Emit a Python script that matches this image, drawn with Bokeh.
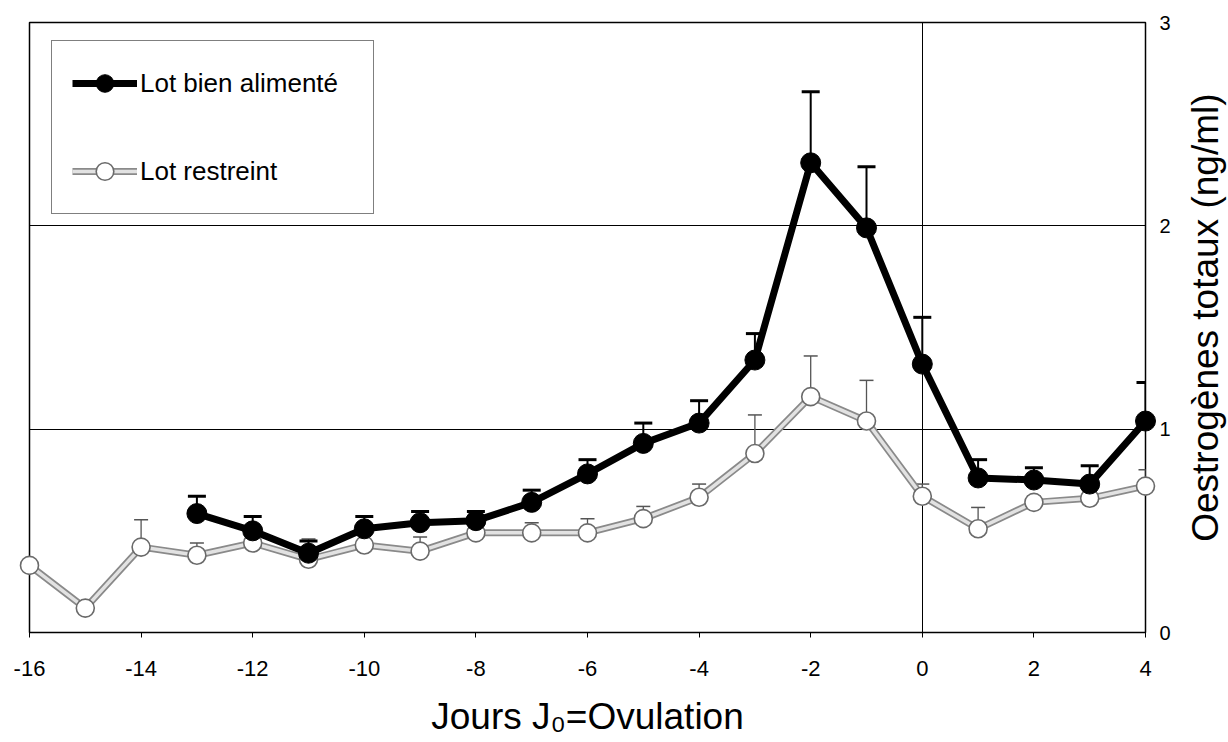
import math
from bokeh.plotting import figure
from bokeh.layouts import row
from bokeh.models import (ColumnDataSource, Whisker, TeeHead, Legend, LegendItem,
                          FixedTicker)
from bokeh.embed import file_html
from bokeh.resources import INLINE

# ---- data ----
days_fed = [-13, -12, -11, -10, -9, -8, -7, -6, -5, -4, -3, -2, -1, 0, 1, 2, 3, 4]
fed = [0.585, 0.50, 0.39, 0.51, 0.54, 0.55, 0.64, 0.78, 0.93, 1.03, 1.34, 2.31,
       1.99, 1.32, 0.76, 0.75, 0.73, 1.04]
fed_upper = [0.67, 0.57, 0.45, 0.57, 0.595, 0.595, 0.70, 0.85, 1.03, 1.14, 1.47, 2.66,
             2.29, 1.55, 0.85, 0.81, 0.82, 1.23]

days_restr = [-16, -15, -14, -13, -12, -11, -10, -9, -8, -7, -6, -5, -4, -3, -2, -1,
              0, 1, 2, 3, 4]
restr = [0.33, 0.12, 0.42, 0.38, 0.44, 0.36, 0.43, 0.40, 0.49, 0.49, 0.49, 0.56,
         0.665, 0.88, 1.16, 1.04, 0.67, 0.51, 0.64, 0.66, 0.72]
restr_upper = [0.33, 0.12, 0.555, 0.44, 0.53, 0.46, 0.50, 0.47, 0.54, 0.54, 0.56, 0.62,
               0.73, 1.07, 1.36, 1.24, 0.73, 0.615, 0.67, 0.69, 0.80]

x_ticks = [-16, -14, -12, -10, -8, -6, -4, -2, 0, 2, 4]
x_tick_labels = ["-16", "-14", "-12", "-10", "-8", "-6", "-4", "-2", "0", "2", "4"]
y_ticks = [0, 1, 2, 3]
series_labels = ["Lot bien alimenté", "Lot restreint"]
x_title = "Jours J\u2080=Ovulation"
y_title = "Oestrogènes totaux (ng/ml)"

FONT = "Liberation Sans"

p = figure(width=1178, height=742, x_range=(-16, 4), y_range=(0, 3),
           y_axis_location="right", output_backend="svg", toolbar_location=None,
           min_border_left=29, min_border_right=33, min_border_top=22,
           min_border_bottom=110)
p.background_fill_color = "white"
p.border_fill_color = "white"
p.outline_line_color = "black"
p.outline_line_width = 1.5

# grid
p.xgrid.ticker = FixedTicker(ticks=[0])
p.xgrid.grid_line_color = "black"
p.xgrid.grid_line_width = 1
p.ygrid.ticker = FixedTicker(ticks=[1, 2])
p.ygrid.grid_line_color = "black"
p.ygrid.grid_line_width = 1

# axes
xa = p.xaxis[0]
xa.ticker = FixedTicker(ticks=x_ticks)
xa.major_label_overrides = {t: s for t, s in zip(x_ticks, x_tick_labels)}
xa.axis_line_color = None
xa.major_tick_out = 5
xa.major_tick_in = 0
xa.minor_tick_line_color = None
xa.major_tick_line_color = "black"
xa.major_label_standoff = 23
xa.major_label_text_font = FONT
xa.major_label_text_font_size = "22px"
xa.major_label_text_color = "black"
xa.axis_label = x_title
xa.axis_label_text_font = FONT
xa.axis_label_text_font_size = "37px"
xa.axis_label_text_font_style = "normal"
xa.axis_label_text_color = "black"
xa.axis_label_standoff = 17

ya = p.yaxis[0]
ya.ticker = FixedTicker(ticks=y_ticks)
ya.axis_line_color = None
ya.major_tick_out = 0
ya.major_tick_in = 0
ya.minor_tick_line_color = None
ya.major_label_standoff = 14
ya.major_label_text_font = FONT
ya.major_label_text_font_size = "20px"
ya.major_label_text_color = "black"

# restricted group (grey, open circles)
src_r = ColumnDataSource(dict(x=days_restr, y=restr, up=restr_upper))
wr = Whisker(source=src_r, base="x", lower="y", upper="up", line_color="#555555",
             line_width=1.3, lower_head=None,
             upper_head=TeeHead(size=14, line_color="#555555", line_width=1.5))
p.add_layout(wr)
lr_out = p.line("x", "y", source=src_r, line_color="#8a8a8a", line_width=7)
lr_in = p.line("x", "y", source=src_r, line_color="#e2e2e2", line_width=3.5)
sr = p.scatter("x", "y", source=src_r, size=18, fill_color="white",
               line_color="#6a6a6a", line_width=1.6, level="overlay")

# well-fed group (black, filled circles)
src_f = ColumnDataSource(dict(x=days_fed, y=fed, up=fed_upper))
wf = Whisker(source=src_f, base="x", lower="y", upper="up", line_color="black",
             line_width=2, lower_head=None,
             upper_head=TeeHead(size=18, line_color="black", line_width=3))
p.add_layout(wf)
lf = p.line("x", "y", source=src_f, line_color="black", line_width=7)
sf = p.scatter("x", "y", source=src_f, size=20, fill_color="black",
               line_color="black", level="overlay")

legend = Legend(items=[LegendItem(label=series_labels[0], renderers=[lf, sf]),
                       LegendItem(label=series_labels[1], renderers=[lr_out, lr_in, sr])],
                location=(22, 418), orientation="vertical",
                glyph_width=65, glyph_height=44, label_height=44, label_width=213,
                label_standoff=3, spacing=44, padding=20, margin=0,
                label_text_font=FONT, label_text_font_size="26px",
                label_text_color="black",
                border_line_color="black", border_line_width=1.5,
                background_fill_color="white", background_fill_alpha=1.0)
p.add_layout(legend)

# narrow strip holding the y-axis title (reads bottom-to-top)
t = figure(width=50, height=742, x_range=(0, 50), y_range=(0, 742),
           output_backend="svg", toolbar_location=None,
           min_border=0, min_border_left=0, min_border_right=0,
           min_border_top=0, min_border_bottom=0)
t.axis.visible = False
t.grid.visible = False
t.outline_line_color = None
t.background_fill_color = "white"
t.border_fill_color = "white"
t.text(x=[27], y=[383], text=[y_title], angle=math.pi / 2,
       text_align="center", text_baseline="middle",
       text_font={"value": FONT}, text_font_size="37px", text_color="black")

layout = row(p, t, spacing=0)
open("out.html", "w").write(file_html(layout, INLINE))
